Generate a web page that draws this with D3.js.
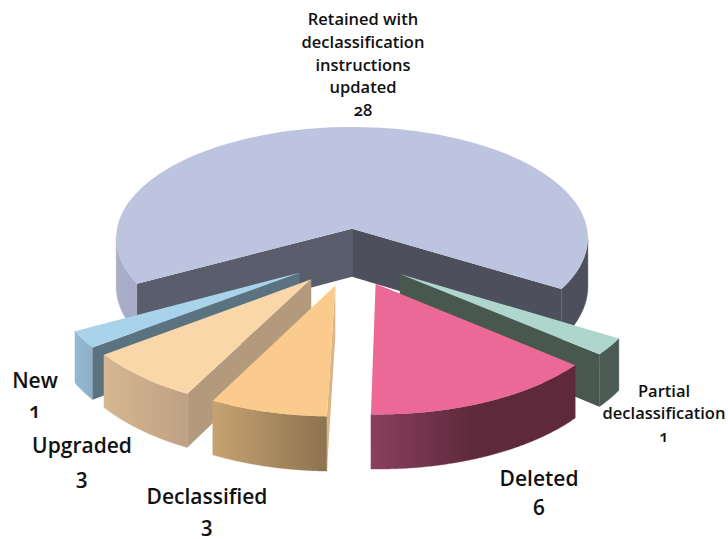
<!DOCTYPE html>
<html>
<head>
<meta charset="utf-8">
<script src="https://cdn.jsdelivr.net/npm/d3@7"></script>
<style>
  html, body { margin: 0; padding: 0; background: #fff; }
  svg { display: block; }
  text { font-family: "Open Sans", Lato, sans-serif; font-weight: 600; fill: #111; font-variant-numeric: oldstyle-nums; font-feature-settings: "onum" 1; }
</style>
</head>
<body>
<div id="chart"></div>
<script>
// values, clockwise from the big slice
const categories = ['Retained', 'Partial', 'Deleted', 'Declassified', 'Upgraded', 'New'];
const values = [28, 1, 6, 3, 3, 1];
const labelLines = [
    ['Retained with', 'declassification', 'instructions', 'updated', '28'],
    ['Partial', 'declassification', '1'],
    ['Deleted', '6'],
    ['Declassified', '3'],
    ['Upgraded', '3'],
    ['New', '1']
];

const topColors = ['#bcc4e0', '#aed6cc', '#ec6897', '#fbcb8e', '#f9d7a9', '#a8d3ea'];
const faceColors = ['#545665', '#48584f', '#5f2a3c', '#dcb584', '#b39a7c', '#5b7380'];
const wallStops = [
    ['#a9adc9', '#a2a6c2', '#4d4f5c', '#4d4f5c'],
    ['#4a5a54', '#4a5a54'],
    ['#8a3f5e', '#5e2a3b', '#5e2a3b'],
    ['#c6a271', '#8d7350'],
    ['#d6b792', '#bea183'],
    ['#93b8d0', '#8db0c6']
];
const labelX = [363, 664, 539, 207, 82, 35];
const labelY = [[25, 48, 71, 93, 116], [397, 419, 442], [486, 515], [504, 532], [453, 484], [388, 418]];
const labelSize = [16.5, 16.5, 21, 21, 21, 21];

const width = 728;
const height = 539;
const cx = 350.5;
const cy = 257;
const radius = 240;
const explode = 60;
const depth = 49;
const tilt = 0.479;
const persp = 0.00035;
const rad = Math.PI / 180;

const svg = d3.select('#chart').append('svg')
    .attr('width', width)
    .attr('height', height);
const defs = svg.append('defs');

const pie = d3.pie().sort(null).startAngle(-118.5 * rad).endAngle(241.5 * rad);
const line = d3.line().x(d => d[0]).y(d => d[1]);

// ground plane -> screen, z is how far below the top face
function project(px, py, z) {
    const s = 1 / (1 + persp * py);
    return [cx + px * s, cy - py * tilt * s + z * s];
}

function signedArea(pts) {
    let sum = 0;
    pts.forEach((p, i) => {
        const q = pts[(i + 1) % pts.length];
        sum += p[0] * q[1] - q[0] * p[1];
    });
    return sum;
}

function drawSlice(d, i) {
    const g = svg.append('g').attr('class', 'slice ' + categories[i]);
    const mid = (d.startAngle + d.endAngle) / 2;
    const ox = explode * Math.sin(mid);
    const oy = explode * Math.cos(mid);
    const rim = (a, z) => project(ox + radius * Math.sin(a), oy + radius * Math.cos(a), z);
    const apex = z => project(ox, oy, z);

    const steps = d3.range(0, 121).map(k => d.startAngle + (d.endAngle - d.startAngle) * k / 120);
    const topRim = steps.map(a => rim(a, 0));

    const gradId = 'wall' + i;
    const xs = d3.extent(topRim, p => p[0]);
    const grad = defs.append('linearGradient')
        .attr('id', gradId)
        .attr('gradientUnits', 'userSpaceOnUse')
        .attr('x1', xs[0]).attr('x2', xs[1])
        .attr('y1', 0).attr('y2', 0);
    wallStops[i].forEach((c, k) => {
        grad.append('stop')
            .attr('offset', k / (wallStops[i].length - 1))
            .attr('stop-color', c);
    });

    // outer wall, only the stretches that face the viewer
    let run = [];
    const flush = () => {
        if (run.length > 1) {
            const lower = run.map(a => rim(a, depth)).reverse();
            const pts = run.map(a => rim(a, 0)).concat(lower);
            g.append('path').attr('d', line(pts) + 'Z')
                .attr('fill', `url(#${gradId})`)
                .attr('stroke', `url(#${gradId})`).attr('stroke-width', 0.4);
        }
        run = [];
    };
    steps.forEach((a, k) => {
        run.push(a);
        if (k === steps.length - 1) { flush(); return; }
        const b = steps[k + 1];
        const quad = [rim(a, 0), rim(b, 0), rim(b, depth), rim(a, depth)];
        if (signedArea(quad) >= 0) flush();
    });

    // cut faces
    [[d.startAngle, -1], [d.endAngle, 1]].forEach(([a, sign]) => {
        const quad = [apex(0), rim(a, 0), rim(a, depth), apex(depth)];
        if (signedArea(quad) * sign > 0) {
            g.append('path').attr('d', line(quad) + 'Z')
                .attr('fill', i === 0 && sign === -1 ? '#5a5d6c' : (i === 0 ? '#4d4f5c' : faceColors[i]));
        }
    });

    g.append('path')
        .attr('d', line([apex(0)].concat(topRim)) + 'Z')
        .attr('fill', topColors[i]);
}

const arcs = pie(values);
// back to front
[0, 1, 5, 4, 3, 2].forEach(i => drawSlice(arcs[i], i));

// labels
labelLines.forEach((lines, i) => {
    const t = svg.append('text')
        .attr('text-anchor', 'middle')
        .attr('font-size', labelSize[i]);
    lines.forEach((s, k) => {
        t.append('tspan').attr('x', labelX[i]).attr('y', labelY[i][k]).text(s);
    });
});
</script>
</body>
</html>
